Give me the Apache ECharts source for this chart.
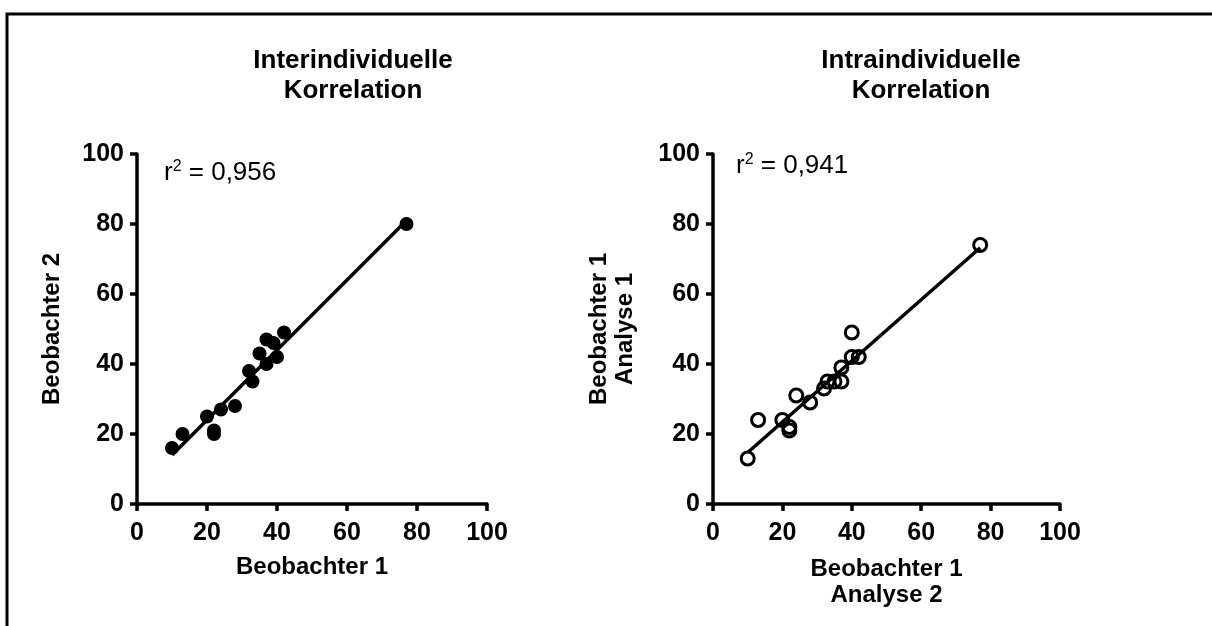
<!DOCTYPE html>
<html>
<head>
<meta charset="utf-8">
<script src="https://cdn.jsdelivr.net/npm/echarts@6/dist/echarts.min.js"></script>
<style>
  html, body { margin: 0; padding: 0; background: #fff; }
  #main { width: 1212px; height: 626px; }
</style>
</head>
<body>
<div id="main"></div>
<script>
// Interindividuelle Korrelation (Beobachter 1 vs Beobachter 2)
var interX = [10, 13, 20, 22, 22, 24, 28, 32, 33, 35, 37, 37, 39, 40, 42, 77];
var interY = [16, 20, 25, 20, 21, 27, 28, 38, 35, 43, 47, 40, 46, 42, 49, 80];
var interFitX = [10, 77];
var interFitY = [14, 81];
var interR2 = '0,956';

// Intraindividuelle Korrelation (Analyse 2 vs Analyse 1)
var intraX = [10, 13, 20, 22, 22, 24, 28, 32, 33, 35, 37, 37, 40, 40, 42, 77];
var intraY = [13, 24, 24, 22, 21, 31, 29, 33, 35, 35, 35, 39, 49, 42, 42, 74];
var intraFitX = [10, 77];
var intraFitY = [14.7, 73.2];
var intraR2 = '0,941';

var axisTicks = [0, 20, 40, 60, 80, 100];

var FONT = '"Liberation Sans", Arial, sans-serif';

function pairs(xs, ys) {
    var out = [];
    for (var i = 0; i < xs.length; i++) {
        out.push([xs[i], ys[i]]);
    }
    return out;
}

function makeAxis(gridIndex, name, nameGap, isY) {
    return {
        type: 'value',
        gridIndex: gridIndex,
        min: axisTicks[0],
        max: axisTicks[axisTicks.length - 1],
        interval: 20,
        name: name,
        nameLocation: 'middle',
        nameGap: nameGap,
        nameRotate: isY ? 90 : 0,
        nameTextStyle: {
            fontFamily: FONT,
            fontWeight: 'bold',
            fontSize: 24,
            color: '#000',
            lineHeight: 26
        },
        axisLine: { show: true, onZero: false, lineStyle: { color: '#000', width: 3.5 } },
        axisTick: { show: true, inside: false, length: 7, lineStyle: { color: '#000', width: 3.5 } },
        axisLabel: {
            fontFamily: FONT,
            fontWeight: 'bold',
            fontSize: 25,
            color: '#000',
            margin: isY ? 13 : 17
        },
        splitLine: { show: false }
    };
}

function r2Text(left, top, value) {
    return {
        type: 'text',
        left: left,
        top: top,
        style: {
            text: 'r{sup|2} = ' + value,
            font: '26px ' + FONT,
            fill: '#000',
            rich: { sup: { fontSize: 16, verticalAlign: 'top', padding: [0, 0, 12, 0], fontFamily: FONT } }
        }
    };
}

var titleStyle = { fontFamily: FONT, fontWeight: 'bold', fontSize: 26, lineHeight: 30, color: '#000' };

var chart = echarts.init(document.getElementById('main'));

var option = {
    backgroundColor: '#fff',
    animation: false,
    title: [{
        text: 'Interindividuelle\nKorrelation',
        left: 348,
        top: 41,
        textAlign: 'center',
        textStyle: titleStyle
    }, {
        text: 'Intraindividuelle\nKorrelation',
        left: 916,
        top: 41,
        textAlign: 'center',
        textStyle: titleStyle
    }],
    graphic: [{
        type: 'rect',
        shape: { x: 7, y: 14, width: 1230, height: 700 },
        style: { fill: 'none', stroke: '#000', lineWidth: 3 },
        silent: true
    },
        r2Text(164, 159, interR2),
        r2Text(736, 152, intraR2)
    ],
    grid: [
        { left: 137, right: 725, top: 154, bottom: 122 },
        { left: 713, right: 152, top: 154, bottom: 122 }
    ],
    xAxis: [
        makeAxis(0, 'Beobachter 1', 50, false),
        makeAxis(1, 'Beobachter 1\nAnalyse 2', 52, false)
    ],
    yAxis: [
        makeAxis(0, 'Beobachter 2', 72, true),
        makeAxis(1, 'Beobachter 1\nAnalyse 1', 75, true)
    ],
    series: [{
        type: 'line',
        xAxisIndex: 0,
        yAxisIndex: 0,
        data: pairs(interFitX, interFitY),
        showSymbol: false,
        lineStyle: { color: '#000', width: 3.5 },
        z: 2
    }, {
        type: 'scatter',
        xAxisIndex: 0,
        yAxisIndex: 0,
        data: pairs(interX, interY),
        symbol: 'circle',
        symbolSize: 14,
        itemStyle: { color: '#000', opacity: 1 },
        z: 3
    }, {
        type: 'line',
        xAxisIndex: 1,
        yAxisIndex: 1,
        data: pairs(intraFitX, intraFitY),
        showSymbol: false,
        lineStyle: { color: '#000', width: 3.5 },
        z: 2
    }, {
        type: 'scatter',
        xAxisIndex: 1,
        yAxisIndex: 1,
        data: pairs(intraX, intraY),
        symbol: 'circle',
        symbolSize: 13,
        itemStyle: { color: 'rgba(255,255,255,0)', borderColor: '#000', borderWidth: 3, opacity: 1 },
        z: 3
    }]
};

chart.setOption(option);
</script>
</body>
</html>
